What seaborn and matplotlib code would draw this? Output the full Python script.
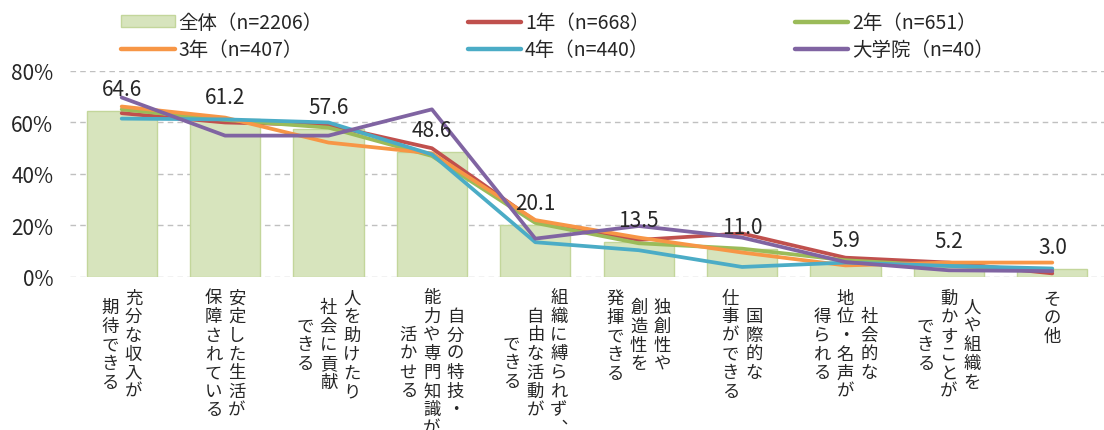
import numpy as np
import pandas as pd
import matplotlib
matplotlib.use("Agg")
import matplotlib.pyplot as plt
from matplotlib.lines import Line2D
from matplotlib.patches import Patch
import seaborn as sns

# categories (line breaks = columns of the vertical label, first line is the right-most column)
categories = [
    "充分な収入が\n期待できる",
    "安定した生活が\n保障されている",
    "人を助けたり\n社会に貢献\nできる",
    "自分の特技・\n能力や専門知識が\n活かせる",
    "組織に縛られず︑\n自由な活動が\nできる",
    "独創性や\n創造性を\n発揮できる",
    "国際的な\n仕事ができる",
    "社会的な\n地位・名声が\n得られる",
    "人や組織を\n動かすことが\nできる",
    "その他",
]
overall = [64.6, 61.2, 57.6, 48.6, 20.1, 13.5, 11.0, 5.9, 5.2, 3.0]
year1 = [63.6, 60.0, 59.0, 50.0, 21.7, 14.4, 16.9, 7.5, 5.6, 1.4]
year2 = [65.1, 61.0, 58.0, 47.0, 21.0, 13.1, 11.0, 6.5, 4.3, 2.6]
year3 = [66.2, 61.9, 52.2, 48.0, 22.1, 15.3, 9.5, 4.5, 5.6, 5.6]
year4 = [61.5, 61.2, 60.0, 47.6, 13.5, 10.4, 3.9, 5.6, 4.3, 3.3]
grad = [69.7, 54.9, 54.9, 65.1, 14.9, 19.8, 15.3, 5.8, 2.6, 2.3]

overall_name = "全体（n=2206）"
series_names = ["1年（n=668）", "2年（n=651）", "3年（n=407）", "4年（n=440）", "大学院（n=40）"]
series_colors = ["#c0504d", "#9bbb59", "#f79646", "#4bacc6", "#8064a2"]

sns.set_style("white")
plt.rcParams["font.family"] = ["Noto Sans CJK JP", "DejaVu Sans"]

fig = plt.figure(figsize=(11.04, 4.31), dpi=100)
ax = fig.add_axes([0.0634, 0.355, 0.9366, 0.478])

bar_df = pd.DataFrame({"cat": categories, "value": overall})
sns.barplot(data=bar_df, x="cat", y="value", color="#d7e4bd", edgecolor="#c3d69b",
            linewidth=1, width=0.68, saturation=1, ax=ax, zorder=2)

line_df = pd.DataFrame({
    "cat": categories * len(series_names),
    "value": year1 + year2 + year3 + year4 + grad,
    "group": np.repeat(series_names, len(categories)),
})
sns.lineplot(data=line_df, x="cat", y="value", hue="group", hue_order=series_names,
             palette=series_colors, linewidth=2.7, sort=False, legend=False, ax=ax, zorder=3)

ax.bar_label(ax.containers[0], labels=[f"{v:.1f}" for v in overall], padding=8, fontsize=15)

ax.set_ylim(0, 80)
ax.set_xlim(-0.5, len(categories) - 0.5)
ax.set_yticks([0, 20, 40, 60, 80])
ax.set_yticklabels([f"{t}%" for t in [0, 20, 40, 60, 80]], fontsize=15)
ax.yaxis.grid(True, linestyle=(0, (4, 3)), color="#c0c0c0", linewidth=1)
ax.set_axisbelow(True)
for s in ax.spines.values():
    s.set_visible(False)
ax.tick_params(axis="both", length=0, pad=12)
ax.set_xlabel("")
ax.set_ylabel("")
ax.set_xticks(range(len(categories)))
ax.set_xticklabels([""] * len(categories))

# vertical (tategaki) category labels
col_gap = 17.0
pitch = 13.0
for i, lab in enumerate(categories):
    cols = lab.split("\n")
    m = max(len(c) for c in cols)
    n = len(cols)
    for j, col in enumerate(cols):
        dx = ((n - 1) / 2 - j) * col_gap
        dy = -(9.5 + m * pitch / 2)
        ax.annotate("\n".join(col), xy=(i, 0), xycoords=("data", "axes fraction"),
                    xytext=(dx, dy), textcoords="offset points", ha="center", va="center",
                    fontsize=12.5, linespacing=1.05, annotation_clip=False)

handles = [Patch(facecolor="#d7e4bd", edgecolor="#c3d69b", label=overall_name)]
handles += [Line2D([], [], color=c, lw=3.2, label=n) for c, n in zip(series_colors, series_names)]
# matplotlib fills legend columns first; reorder so rows read like the original
order = [0, 3, 1, 4, 2, 5]
handles = [handles[k] for k in order]
fig.legend(handles=handles, loc="upper left", bbox_to_anchor=(0.094, 1.01), ncol=3,
           frameon=False, fontsize=14, handlelength=2.75, handleheight=0.55,
           columnspacing=7.45, labelspacing=0.32, handletextpad=0.2)

fig.savefig("out.png", dpi=100)
